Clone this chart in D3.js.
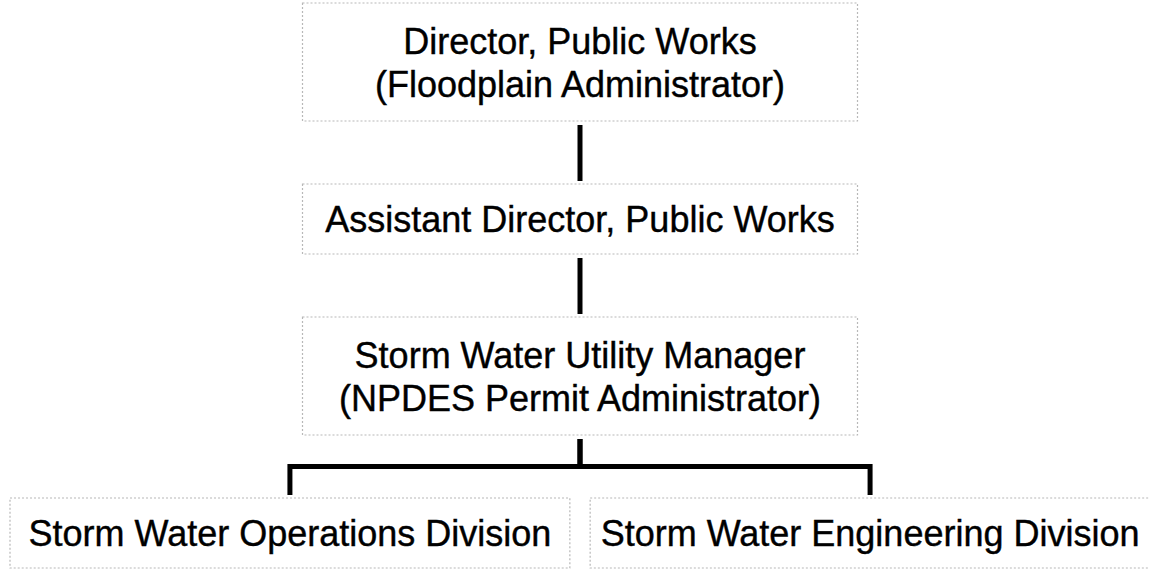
<!DOCTYPE html>
<html>
<head>
<meta charset="utf-8">
<script src="https://cdn.jsdelivr.net/npm/d3@7"></script>
<style>
  body { margin: 0; background: #fff; }
  .box { fill: #fff; stroke: #b8b8b8; stroke-width: 1.2; stroke-dasharray: 2 2; }
  .label { font-family: "Liberation Sans", Arial, sans-serif; font-size: 36px; fill: #000; stroke: #000; stroke-width: 0.4; }
  .link { fill: none; stroke: #000; stroke-width: 5; stroke-linejoin: miter; }
</style>
</head>
<body>
<script>
// org units, parent of each, and text lines shown in the box
var ids = ["dir", "asst", "swum", "ops", "eng"];
var parents = ["", "dir", "asst", "swum", "swum"];
var labels = [
    ["Director, Public Works", "(Floodplain Administrator)"],
    ["Assistant Director, Public Works"],
    ["Storm Water Utility Manager", "(NPDES Permit Administrator)"],
    ["Storm Water Operations Division"],
    ["Storm Water Engineering Division"]
];

var width = 1149,
    height = 570;

var svg = d3.select('body')
    .append('svg')
    .attr('width', width)
    .attr('height', height);

var table = ids.map(function(id, i) {
    return { id: id, parentId: parents[i] || null, lines: labels[i] };
});

var root = d3.stratify()(table);
d3.tree().size([1, 1])(root);

var lineGap = 43;
var boxH = function(d) { return d.data.lines.length == 2 ? 118 : 70; };
var rowGap = 63;

// row tops stacked from the tallest box in each depth
var depthH = [];
root.each(function(d) {
    depthH[d.depth] = Math.max(depthH[d.depth] || 0, boxH(d));
});
var rowTop = [3];
for (var i = 1; i < depthH.length; i++) rowTop[i] = rowTop[i - 1] + depthH[i - 1] + rowGap;

// leaves sit in bands across the page, the chain above is centred
var leaves = root.leaves();
var band = d3.scaleBand()
    .domain(leaves.map(function(d) { return d.id; }))
    .range([10, 1150])
    .paddingInner(0.035);
var x = d3.scaleLinear()
    .domain(d3.extent(leaves, function(d) { return d.x; }))
    .range([10 + band.bandwidth() / 2, 1150 - band.bandwidth() / 2]);
var chainW = 555;

root.each(function(d) {
    d.cx = d.children ? 580 : x(d.x);
    d.w = d.children ? chainW : band.bandwidth();
    d.top = rowTop[d.depth];
    d.h = boxH(d);
});

// elbow connectors
svg.append('g')
    .selectAll('path')
    .data(root.links())
    .enter().append('path')
    .attr('class', 'link')
    .attr('d', function(l) {
        var y0 = l.source.top + l.source.h + 4,
            y1 = l.target.top - 3,
            ym = (l.source.top + l.source.h + l.target.top) / 2;
        return 'M' + l.source.cx + ',' + y0 + 'V' + ym + 'H' + l.target.cx + 'V' + y1;
    });

var node = svg.append('g')
    .selectAll('g')
    .data(root.descendants())
    .enter().append('g');

node.append('rect')
    .attr('class', 'box')
    .attr('x', function(d) { return d.cx - d.w / 2; })
    .attr('y', function(d) { return d.top; })
    .attr('width', function(d) { return d.w; })
    .attr('height', function(d) { return d.h; });

node.each(function(d) {
    var n = d.data.lines.length;
    var cy = d.top + d.h / 2;
    d3.select(this).selectAll('text')
        .data(d.data.lines)
        .enter().append('text')
        .attr('class', 'label')
        .attr('text-anchor', 'middle')
        .attr('x', d.cx)
        .attr('y', function(t, i) { return cy + (i - (n - 1) / 2) * lineGap + 13; })
        .text(function(t) { return t; });
});
</script>
</body>
</html>
